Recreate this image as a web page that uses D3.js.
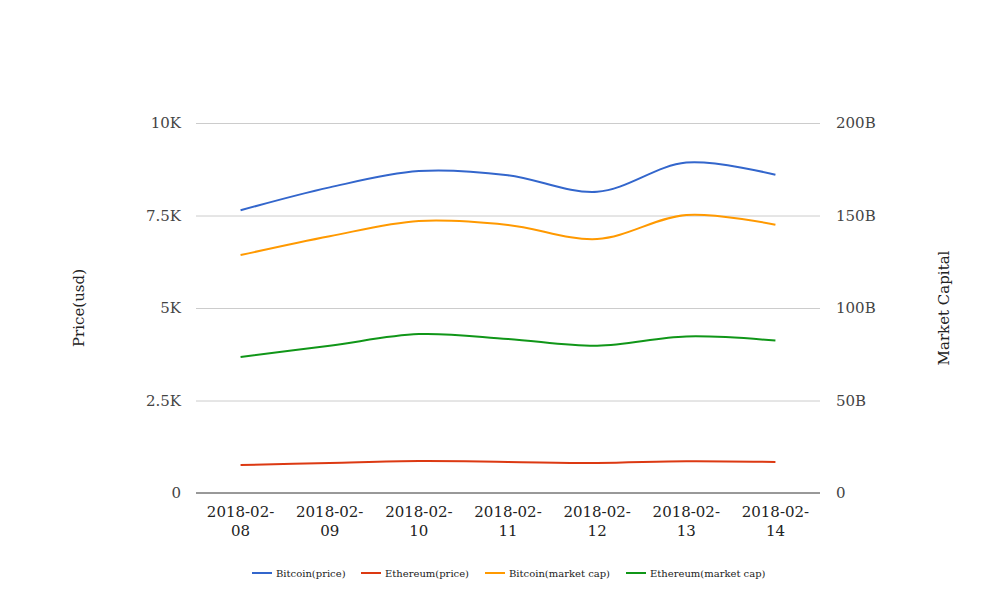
<!DOCTYPE html>
<html>
<head>
<meta charset="utf-8">
<script src="https://cdn.jsdelivr.net/npm/d3@7"></script>
<style>
  body { margin: 0; background: #fff; }
  svg { font-family: "DejaVu Serif", serif; }
  .grid line { stroke: #cccccc; }
  .grid path { display: none; }
</style>
</head>
<body>
<svg width="1008" height="616"></svg>
<script>
const dates = ['2018-02-08', '2018-02-09', '2018-02-10', '2018-02-11', '2018-02-12', '2018-02-13', '2018-02-14']
const btcPrice = [7640, 8260, 8700, 8590, 8140, 8930, 8600]
const ethPrice = [757, 810, 862, 840, 812, 860, 840]
const btcCap = [128.6, 138.8, 147.0, 144.9, 137.3, 150.3, 145.0]
const ethCap = [73.5, 79.6, 85.9, 83.3, 79.6, 84.6, 82.4]
const leftTicks = [0, 2500, 5000, 7500, 10000]
const leftLabels = ['0', '2.5K', '5K', '7.5K', '10K']
const rightTicks = [0, 50, 100, 150, 200]
const rightLabels = ['0', '50B', '100B', '150B', '200B']

const series = [
  { name: 'Bitcoin(price)', values: btcPrice, axis: 'left', color: '#3366cc' },
  { name: 'Ethereum(price)', values: ethPrice, axis: 'left', color: '#dc3912' },
  { name: 'Bitcoin(market cap)', values: btcCap, axis: 'right', color: '#ff9900' },
  { name: 'Ethereum(market cap)', values: ethCap, axis: 'right', color: '#109618' }
]

const plotLeft = 196, plotRight = 820, plotTop = 123, plotBottom = 493
const svg = d3.select('svg')

const x = d3.scaleBand().domain(dates).range([plotLeft, plotRight])
const yLeft = d3.scaleLinear().domain([0, 10000]).range([plotBottom, plotTop])
const yRight = d3.scaleLinear().domain([0, 200]).range([plotBottom, plotTop])

// Gridlines
svg.append('g')
  .attr('class', 'grid')
  .attr('transform', `translate(${plotLeft}, 0)`)
  .call(d3.axisLeft(yLeft).tickValues(leftTicks.slice(1)).tickSize(-(plotRight - plotLeft)).tickFormat(''))

// Left axis labels
svg.append('g').selectAll('text')
  .data(leftTicks)
  .enter()
  .append('text')
  .attr('x', 181)
  .attr('y', d => yLeft(d))
  .attr('dy', '0.35em')
  .attr('text-anchor', 'end')
  .attr('font-size', 15)
  .attr('fill', '#444')
  .text((d, i) => leftLabels[i])

// Right axis labels
svg.append('g').selectAll('text')
  .data(rightTicks)
  .enter()
  .append('text')
  .attr('x', 836)
  .attr('y', d => yRight(d))
  .attr('dy', '0.35em')
  .attr('text-anchor', 'start')
  .attr('font-size', 15)
  .attr('fill', '#444')
  .text((d, i) => rightLabels[i])

// Baseline
svg.append('line')
  .attr('x1', plotLeft).attr('x2', plotRight)
  .attr('y1', plotBottom).attr('y2', plotBottom)
  .attr('stroke', '#333')

// X labels, two lines each
const xl = svg.append('g').selectAll('text')
  .data(dates)
  .enter()
  .append('text')
  .attr('text-anchor', 'middle')
  .attr('font-size', 15)
  .attr('fill', '#222')
  .attr('transform', d => `translate(${x(d) + x.bandwidth() / 2}, 517)`)
xl.append('tspan').attr('x', 0).attr('y', 0).text(d => d.slice(0, 8))
xl.append('tspan').attr('x', 0).attr('y', 19).text(d => d.slice(8))

// Axis titles
svg.append('text')
  .attr('transform', 'translate(84, 308) rotate(-90)')
  .attr('text-anchor', 'middle')
  .attr('font-size', 15)
  .attr('fill', '#222')
  .text('Price(usd)')

svg.append('text')
  .attr('transform', 'translate(949, 308) rotate(-90)')
  .attr('text-anchor', 'middle')
  .attr('font-size', 15)
  .attr('fill', '#222')
  .text('Market Capital')

// Lines
series.forEach(s => {
  const yScale = s.axis === 'left' ? yLeft : yRight
  const line = d3.line()
    .x((d, i) => x(dates[i]) + x.bandwidth() / 2)
    .y(d => yScale(d))
    .curve(d3.curveCatmullRom)
  svg.append('path')
    .datum(s.values)
    .attr('fill', 'none')
    .attr('stroke', s.color)
    .attr('stroke-width', 2)
    .attr('d', line)
})

// Legend
const legendX = [252, 361, 485, 626]
const legend = svg.append('g').selectAll('g')
  .data(series)
  .enter()
  .append('g')
  .attr('transform', (d, i) => `translate(${legendX[i]}, 573)`)
legend.append('line')
  .attr('x1', 0).attr('x2', 20)
  .attr('stroke', d => d.color)
  .attr('stroke-width', 2)
legend.append('text')
  .attr('x', 24)
  .attr('dy', '0.35em')
  .attr('font-size', 10)
  .attr('fill', '#222')
  .text(d => d.name)
</script>
</body>
</html>
